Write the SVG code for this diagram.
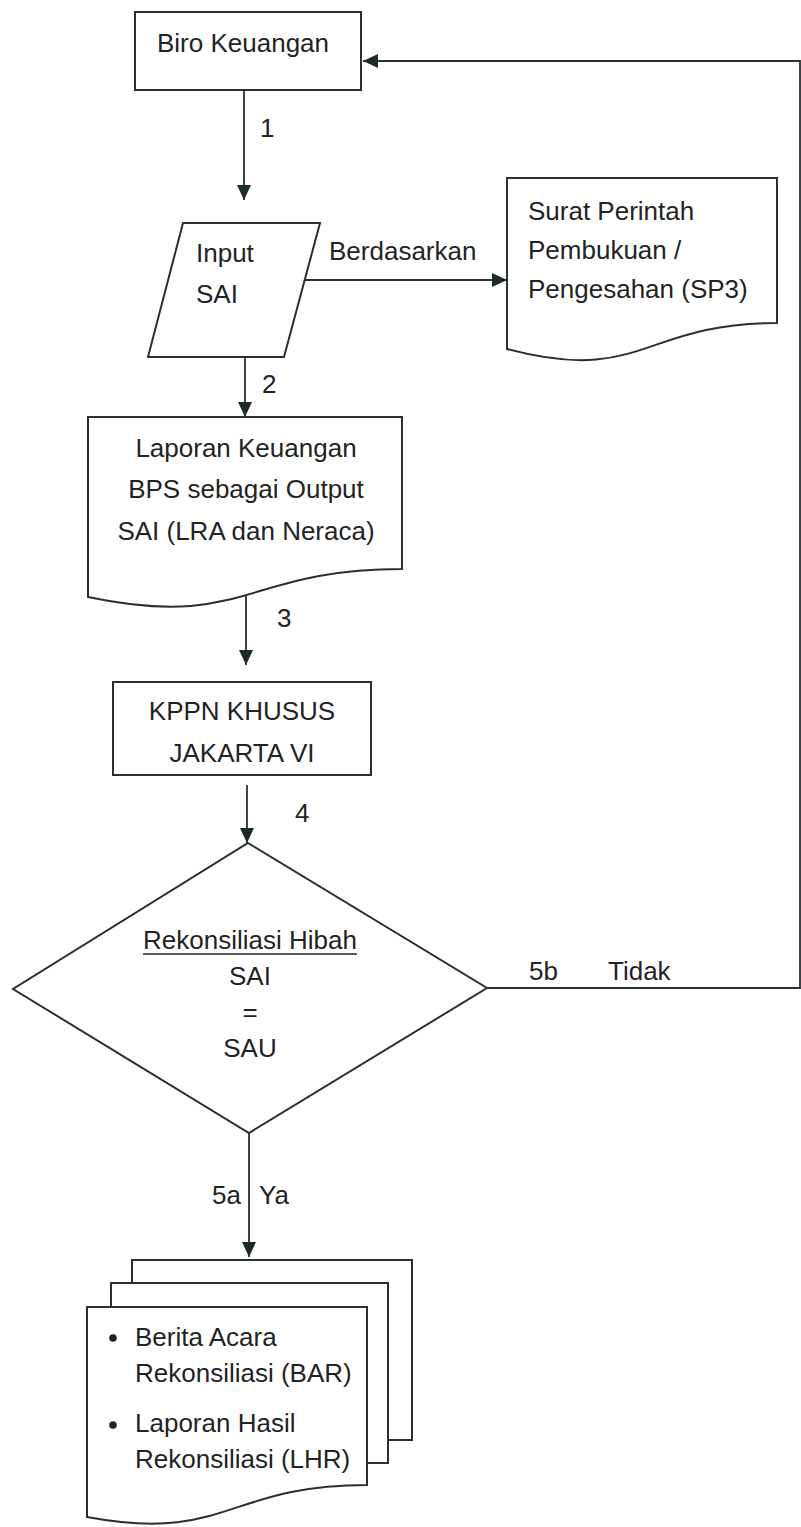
<svg xmlns="http://www.w3.org/2000/svg" width="801" height="1527" viewBox="0 0 801 1527">
<style>
.s{fill:#fff;stroke:#2b2f2f;stroke-width:2}
.c{fill:none;stroke:#263030;stroke-width:1.8}
text{font-family:"Liberation Sans",Arial,sans-serif;font-size:26px;fill:#1f2424}
.m{text-anchor:middle}
</style>
<defs>
<marker id="ah" markerUnits="userSpaceOnUse" markerWidth="15" markerHeight="14" refX="15" refY="7" orient="auto"><path d="M0,0 L15,7 L0,14 z" fill="#1d2a2a"/></marker>
</defs>
<rect width="801" height="1527" fill="#fff"/>
<g id="biro">
<rect class="s" x="135" y="12" width="226" height="78"/>
<text x="157" y="52">Biro Keuangan</text>
</g>
<g id="input">
<polygon class="s" points="183,223 320,223 284,357 148,357"/>
<text x="196" y="262">Input</text>
<text x="196" y="303">SAI</text>
</g>
<g id="sp3">
<path class="s" d="M507,178 H777 V323 C642,323 642,385 507,349 Z"/>
<text x="528" y="220">Surat Perintah</text>
<text x="528" y="259">Pembukuan /</text>
<text x="528" y="298">Pengesahan (SP3)</text>
</g>
<g id="laporan">
<path class="s" d="M88,417 H402 V569 C245,569 245,630 88,597 Z"/>
<text class="m" x="246" y="457">Laporan Keuangan</text>
<text class="m" x="246" y="498">BPS sebagai Output</text>
<text class="m" x="246" y="540">SAI (LRA dan Neraca)</text>
</g>
<g id="kppn">
<rect class="s" x="113" y="682" width="258" height="93"/>
<text class="m" x="242" y="720">KPPN KHUSUS</text>
<text class="m" x="242" y="762">JAKARTA VI</text>
</g>
<g id="rekonsiliasi">
<polygon class="s" points="248,843 487,988 249,1133 13,989"/>
<text class="m" x="250" y="949">Rekonsiliasi Hibah</text>
<line x1="143" y1="954" x2="357" y2="954" stroke="#1f2424" stroke-width="1.6"/>
<text class="m" x="250" y="985">SAI</text>
<text class="m" x="250" y="1021">=</text>
<text class="m" x="250" y="1057">SAU</text>
</g>
<g id="hasil">
<path class="s" d="M132,1283 V1260 H412 V1440 H388"/>
<path class="s" d="M111,1307 V1283 H388 V1463 H367"/>
<path class="s" d="M87,1307 H367 V1485 C227,1485 227,1543 87,1517 Z"/>
<circle cx="113" cy="1338" r="3.8" fill="#1f2424"/>
<circle cx="113" cy="1425" r="3.8" fill="#1f2424"/>
<text x="135" y="1346">Berita Acara</text>
<text x="135" y="1382">Rekonsiliasi (BAR)</text>
<text x="135" y="1432">Laporan Hasil</text>
<text x="135" y="1468">Rekonsiliasi (LHR)</text>
</g>
<g id="connectors">
<path class="c" d="M244,90 V200" marker-end="url(#ah)"/>
<path class="c" d="M305,280 H507" marker-end="url(#ah)"/>
<path class="c" d="M245,357 V417" marker-end="url(#ah)"/>
<path class="c" d="M246,595 V665" marker-end="url(#ah)"/>
<path class="c" d="M247,785 V843" marker-end="url(#ah)"/>
<path class="c" d="M249,1133 V1257" marker-end="url(#ah)"/>
<path class="c" d="M487,988 H800 V61 H363" marker-end="url(#ah)"/>
<text x="260" y="137">1</text>
<text x="329" y="260">Berdasarkan</text>
<text x="262" y="393">2</text>
<text x="277" y="627">3</text>
<text x="295" y="822">4</text>
<text x="212" y="1204">5a</text>
<text x="259" y="1204">Ya</text>
<text x="529" y="980">5b</text>
<text x="608" y="980">Tidak</text>
</g>
</svg>
